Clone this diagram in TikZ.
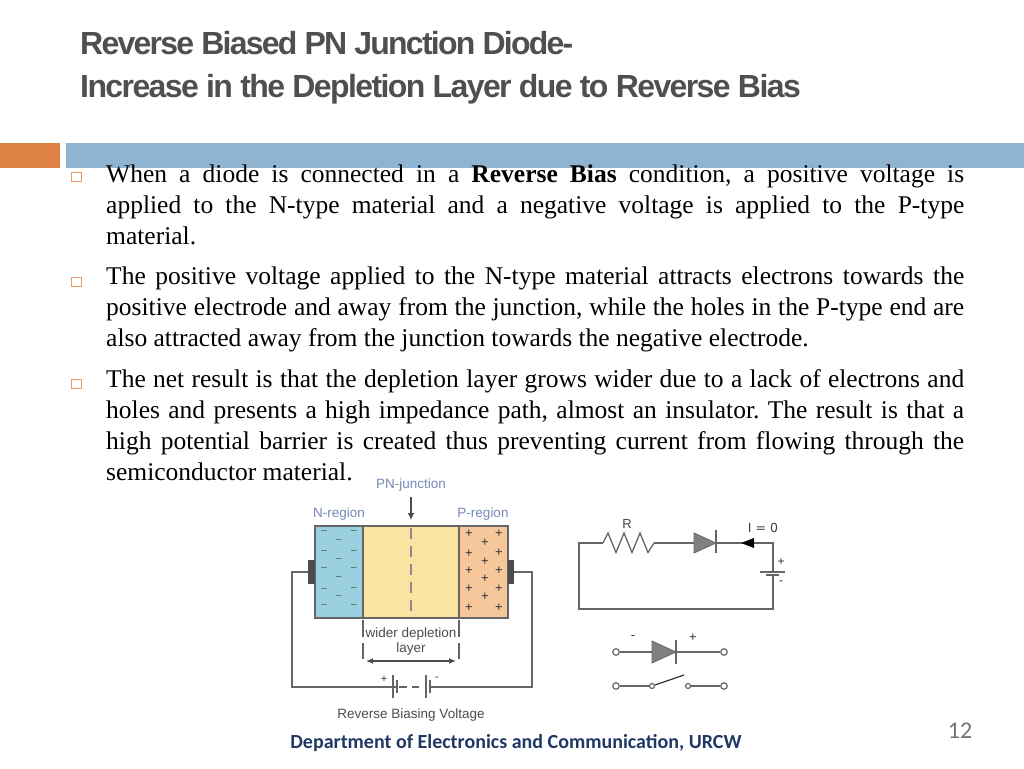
\documentclass[tikz,border=0pt]{standalone}
\usepackage{fontspec}
\setmainfont{Liberation Serif}
\newfontfamily\titlefont[LetterSpace=-5.5]{Liberation Sans}
\newfontfamily\titlewide[LetterSpace=-5]{Liberation Sans}
\newfontfamily\figfont{Liberation Sans}
\newfontfamily\footfont{Carlito}
\newfontfamily\labelfont{DejaVu Sans}
\usetikzlibrary{arrows.meta}
\definecolor{headblue}{HTML}{8FB4D2}
\definecolor{headorange}{HTML}{DF8344}
\definecolor{titlegrey}{HTML}{4F4F4F}
\definecolor{nfill}{HTML}{9AD0DF}
\definecolor{depfill}{HTML}{FBE3A1}
\definecolor{pfill}{HTML}{F7C79C}
\definecolor{wiregrey}{HTML}{666666}
\definecolor{regionblue}{HTML}{7587B5}
\definecolor{footblue}{HTML}{1F3864}
\definecolor{junctiondash}{HTML}{9A8490}
\tikzset{
  titleline/.style={anchor=base west,inner sep=0pt,text=titlegrey,font=\bfseries\fontsize{32}{36}\selectfont},
  para/.style={anchor=north west,inner sep=0pt,text width=858pt,align=justify,font=\frenchspacing\fontsize{25.5}{31}\selectfont},
  bulletbox/.style={draw=headorange!80,line width=1pt,minimum size=9.5pt,inner sep=0pt},
  wire/.style={draw=wiregrey,line width=1.3pt},
  figlabel/.style={inner sep=0pt,font=\figfont\fontsize{13.5}{15}\selectfont,text=black!70},
  regionlabel/.style={inner sep=0pt,font=\figfont\fontsize{13.5}{15}\selectfont,text=regionblue},
  carrier/.style={inner sep=0pt,font=\figfont\fontsize{13}{13}\selectfont,text=black!80},
  minuscarrier/.style={inner sep=0pt,font=\figfont\fontsize{10}{10}\selectfont,text=black!70},
  terminal/.style={circle,draw=wiregrey,fill=white,line width=1.2pt,minimum size=6.5pt,inner sep=0pt},
  diodetri/.style={fill=black!50,draw=wiregrey,line width=.8pt},
}
\begin{document}
\begin{tikzpicture}[x=1pt,y=1pt]
\useasboundingbox (0,0) rectangle (1024,-768);
% header
\fill [headorange] (0,-143) rectangle (60,-168);
\fill [headblue] (66,-143) rectangle (1024,-168);
\node [titleline,font=\titlefont\bfseries\fontsize{32}{36}\selectfont] (title1) at (80,-55) {Reverse Biased PN Junction Diode-};
\node [titleline,font=\titlewide\bfseries\fontsize{32}{36}\selectfont] (title2) at (80,-97) {Increase in the Depletion Layer due to Reverse Bias};
% bullets
\node [bulletbox] (b1) at (76.5,-177) {};
\node [bulletbox] (b2) at (76.5,-282) {};
\node [bulletbox] (b3) at (76.5,-384) {};
\node [para] (p1) at (106,-165) {When a diode is connected in a \textbf{Reverse Bias} condition, a positive voltage is\linebreak applied to the N-type material and a negative voltage is applied to the P-type\linebreak material.};
\node [para] (p2) at (106,-267) {The positive voltage applied to the N-type material attracts electrons towards the\linebreak positive electrode and away from the junction, while the holes in the P-type end are\linebreak also attracted away from the junction towards the negative electrode.};
\node [para] (p3) at (106,-369) {The net result is that the depletion layer grows wider due to a lack of electrons and\linebreak holes and presents a high impedance path, almost an insulator. The result is that a\linebreak high potential barrier is created thus preventing current from flowing through the\linebreak semiconductor material.};
% junction
\fill [nfill] (315,-526) rectangle (363,-618);
\fill [depfill] (363,-526) rectangle (459,-618);
\fill [pfill] (459,-526) rectangle (508,-618);
\draw [wire] (315,-526) rectangle (508,-618);
\draw [wire] (363,-526) -- (363,-618);
\draw [wire] (459,-526) -- (459,-618);
\draw [draw=junctiondash,line width=1.5pt,dash pattern=on 11pt off 7pt] (411,-528) -- (411,-618);
\foreach \x/\y [count=\i] in {324/532,324/552,324/569,324/590,324/606,339/541,339/560,339/578,339/597,354/532,354/552,354/569,354/589,354/606}
  \node [minuscarrier] (m\i) at (\x,-\y) {–};
\foreach \x/\y [count=\i] in {469/533.5,469/553.5,469/570.5,469/588.5,469/607.5,485/542.5,485/561.5,485/578.5,485/596.5,499/533.5,499/552.5,499/570.5,499/588.5,499/607.5}
  \node [carrier] (q\i) at (\x,-\y) {+};
\fill [black!70] (308,-560) rectangle (315,-584);
\fill [black!70] (508,-560) rectangle (514,-584);
\node [regionlabel] (pnlabel) at (411,-485) {PN-junction};
\node [regionlabel] (nlabel) at (339,-514) {N-region};
\node [regionlabel] (plabel) at (483,-514) {P-region};
\coordinate (pnstart) at (411,-497);
\coordinate (pnend) at (411,-520);
\draw [black!70,line width=1.3pt,-{Latex[length=7pt,width=7pt]}] (pnstart) -- (pnend);
\node [figlabel] (widerlabel) at (411,-634) {wider depletion};
\node [figlabel] (layerlabel) at (411,-649) {layer};
\foreach \x in {363,459} {
  \draw [wire] (\x,-620) -- (\x,-637);
  \draw [wire] (\x,-643) -- (\x,-659);
}
\coordinate (widthl) at (366,-661);
\coordinate (widthr) at (456,-661);
\draw [draw=black!70,line width=1.3pt,{Latex[length=7pt,width=6pt]}-{Latex[length=7pt,width=6pt]}] (widthl) -- (widthr);
% biasing loop
\coordinate (elecl) at (308,-572);
\coordinate (elecr) at (514,-572);
\coordinate (batl) at (397,-687);
\coordinate (batr) at (430,-687);
\draw [wire] (elecl) -- (292,-572) |- (batl);
\draw [wire] (elecr) -- (532,-572) |- (batr);
\draw [wire,line width=1.6pt] (393,-675) -- (393,-698);
\draw [wire,line width=1.6pt] (397,-680) -- (397,-693);
\draw [wire,line width=1.6pt] (426,-675) -- (426,-698);
\draw [wire,line width=1.6pt] (430,-680) -- (430,-693);
\draw [wire] (399,-687) -- (407,-687);
\draw [wire] (412,-687) -- (419,-687);
\node [carrier,font=\figfont\fontsize{11}{11}\selectfont] (batplus) at (384,-679) {+};
\node [carrier,font=\figfont\fontsize{11}{11}\selectfont] (batminus) at (437,-679) {-};
\node [figlabel] (biaslabel) at (411,-715) {Reverse Biasing Voltage};
% reverse biased circuit
\coordinate (rl) at (603,-543);
\coordinate (rr) at (654,-543);
\coordinate (dbase) at (694,-543);
\coordinate (dtip) at (716,-543);
\coordinate (cellt) at (773,-572);
\coordinate (cellb) at (773,-575);
\draw [wire] (rl) -- (579,-543) |- (773,-609) -- (cellb);
\draw [wire] (rl) -- (608,-533) -- (616,-552.5) -- (624,-533) -- (632,-552.5) -- (640,-533) -- (648,-552.5) -- (rr);
\draw [wire] (rr) -- (dbase);
\draw [diodetri] (694,-533) -- (dtip) -- (694,-553) -- cycle;
\draw [wire] (716,-530) -- (716,-553);
\draw [wire] (dtip) -- (773,-543) -- (cellt);
\fill [black] (741,-543) -- (754,-538) -- (754,-548) -- cycle;
\draw [wire] (760,-572) -- (785,-572);
\draw [wire,line width=1.8pt] (766,-575) -- (779,-575);
\node [carrier,font=\figfont\fontsize{13}{13}\selectfont,text=black!75] (rlabel) at (627,-524) {R};
\node [carrier,font=\labelfont\fontsize{12.5}{12.5}\selectfont,text=black!75] (ilabel) at (763,-528) {I = 0};
\node [carrier,font=\figfont\fontsize{12}{12}\selectfont] (cellplus) at (781,-562) {+};
\node [carrier,font=\figfont\fontsize{12}{12}\selectfont] (cellminus) at (781,-583) {-};
% diode and open switch
\node [terminal] (t1) at (616,-652) {};
\node [terminal] (t2) at (724,-652) {};
\node [terminal] (t3) at (616,-686) {};
\node [terminal] (t4) at (724,-686) {};
\node [terminal,minimum size=5pt] (s1) at (652,-686) {};
\node [terminal,minimum size=5pt] (s2) at (688,-686) {};
\coordinate (d2base) at (652,-652);
\coordinate (d2tip) at (676,-652);
\coordinate (blade) at (684,-675);
\draw [wire] (t1) -- (d2base);
\draw [diodetri] (652,-641) -- (d2tip) -- (652,-663) -- cycle;
\draw [wire] (676,-640) -- (676,-664);
\draw [wire] (d2tip) -- (t2);
\draw [wire] (t3) -- (s1);
\draw [draw=black!80,line width=1.2pt] (s1) -- (blade);
\draw [wire] (s2) -- (t4);
\node [carrier,font=\figfont\fontsize{13}{13}\selectfont] (d2minus) at (633,-638) {-};
\node [carrier,font=\figfont\fontsize{13}{13}\selectfont] (d2plus) at (693,-638) {+};
% footer
\node [inner sep=0pt,text=footblue,font=\footfont\bfseries\fontsize{20}{22}\selectfont] (footer) at (516,-743.5) {Department of Electronics and Communication, URCW};
\node [inner sep=0pt,text=black!55,font=\footfont\fontsize{24}{26}\selectfont] (pageno) at (960,-731) {12};
\end{tikzpicture}
\end{document}
